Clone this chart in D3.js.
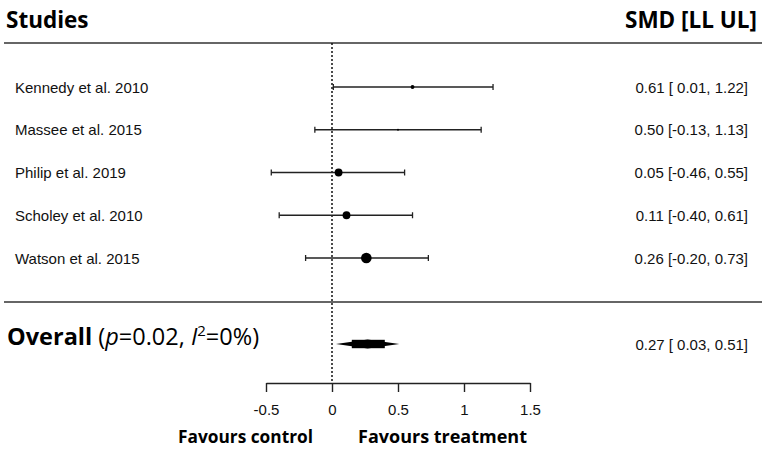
<!DOCTYPE html>
<html>
<head>
<meta charset="utf-8">
<script src="https://cdn.jsdelivr.net/npm/d3@7"></script>
<style>
    body { margin: 0; background: #fff; }
    svg { display: block; }
    .label { font-family: "Liberation Sans", Arial, sans-serif; font-size: 15px; fill: #111; }
    .head { font-family: "Open Sans", sans-serif; font-weight: bold; fill: #000; }
    .axis text { font-family: "Liberation Sans", Arial, sans-serif; font-size: 15px; fill: #111; }
    .axis path, .axis line { stroke: #222; stroke-width: 1.4; }
</style>
</head>
<body>
<svg id="chart" width="765" height="449"></svg>
<script>
// forest plot data
const studies = ["Kennedy et al. 2010", "Massee et al. 2015", "Philip et al. 2019", "Scholey et al. 2010", "Watson et al. 2015"];
const smd = [0.61, 0.50, 0.05, 0.11, 0.26];
const lower = [0.01, -0.13, -0.46, -0.40, -0.20];
const upper = [1.22, 1.13, 0.55, 0.61, 0.73];
const weights = [4, 1, 17, 17, 31];
const overall = {est: 0.27, lo: 0.03, hi: 0.51};
const tickValues = [-0.5, 0, 0.5, 1, 1.5];

const width = 765, height = 449;
const svg = d3.select("#chart");

const x = d3.scaleLinear().domain([-0.5, 1.5]).range([266, 530]);
const y = d3.scalePoint().domain(studies).range([87, 258]);
const r = d3.scaleSqrt().domain([0, d3.max(weights)]).range([0, 5.3]);
const yOverall = 344;
const yAxis = 383;

// plain hyphen instead of the unicode minus d3 uses
const fmt = v => d3.format(".2f")(v).replace("\u2212", "-");
const fmtBound = v => (v < 0 ? "" : " ") + fmt(v);

// headers
svg.append("text").attr("class", "head").attr("x", 6).attr("y", 28)
    .style("font-size", "22.5px").text("Studies");
svg.append("text").attr("class", "head").attr("x", 757).attr("y", 28)
    .attr("text-anchor", "end").style("font-size", "22.5px").text("SMD [LL UL]");

// separators
[43, 302].forEach(yy => {
    svg.append("line").attr("x1", 4).attr("x2", 762).attr("y1", yy).attr("y2", yy)
        .attr("stroke", "#333").attr("stroke-width", 1.5);
});

// null line
svg.append("line").attr("x1", x(0)).attr("x2", x(0)).attr("y1", 43).attr("y2", yAxis)
    .attr("stroke", "#111").attr("stroke-width", 1.5).attr("stroke-dasharray", "2,2");

const rows = studies.map((s, i) => ({name: s, est: smd[i], lo: lower[i], hi: upper[i], w: weights[i]}));

const g = svg.append("g").selectAll("g").data(rows).enter().append("g")
    .attr("transform", d => "translate(0," + y(d.name) + ")");

g.append("line").attr("x1", d => x(d.lo)).attr("x2", d => x(d.hi))
    .attr("stroke", "#222").attr("stroke-width", 1.3);
g.append("line").attr("x1", d => x(d.lo)).attr("x2", d => x(d.lo)).attr("y1", -3).attr("y2", 3)
    .attr("stroke", "#222").attr("stroke-width", 1.3);
g.append("line").attr("x1", d => x(d.hi)).attr("x2", d => x(d.hi)).attr("y1", -3).attr("y2", 3)
    .attr("stroke", "#222").attr("stroke-width", 1.3);
g.append("circle").attr("cx", d => x(d.est)).attr("r", d => r(d.w)).attr("fill", "#000");

g.append("text").attr("class", "label").attr("x", 15).attr("dy", "0.38em").text(d => d.name);
g.append("text").attr("class", "label").attr("x", 748).attr("dy", "0.38em").attr("text-anchor", "end")
    .text(d => fmt(d.est) + " [" + fmtBound(d.lo) + ", " + fmt(d.hi) + "]");

// overall diamond
const dy = 4.5;
svg.append("polygon")
    .attr("points", [[x(overall.lo), yOverall], [x(overall.est), yOverall - dy],
        [x(overall.hi), yOverall], [x(overall.est), yOverall + dy]].map(p => p.join(",")).join(" "))
    .attr("fill", "#000");
svg.append("rect").attr("x", x(0.15)).attr("width", x(0.40) - x(0.15))
    .attr("y", yOverall - 4.2).attr("height", 8.4).attr("fill", "#000");

const ov = svg.append("text").attr("x", 7).attr("y", yOverall + 1)
    .style("font-family", "'Open Sans', sans-serif").style("font-size", "23.5px").attr("fill", "#000");
ov.append("tspan").style("font-weight", "bold").text("Overall");
ov.append("tspan").text(" (");
ov.append("tspan").style("font-style", "italic").text("p");
ov.append("tspan").text("=0.02, ");
ov.append("tspan").style("font-style", "italic").text("I");
ov.append("tspan").attr("dy", -9).style("font-size", "15px").text("2");
ov.append("tspan").attr("dy", 9).text("=0%)");

svg.append("text").attr("class", "label").attr("x", 748).attr("y", yOverall).attr("dy", "0.38em")
    .attr("text-anchor", "end")
    .text(fmt(overall.est) + " [" + fmtBound(overall.lo) + ", " + fmt(overall.hi) + "]");

// axis
svg.append("g").attr("class", "axis").attr("transform", "translate(0," + yAxis + ")")
    .call(d3.axisBottom(x).tickValues(tickValues).tickFormat(d => String(d)).tickSize(9).tickSizeOuter(0).tickPadding(12));

svg.append("text").attr("class", "head").attr("x", 313).attr("y", 443)
    .attr("text-anchor", "end").style("font-size", "17.5px")
    .attr("textLength", 135).attr("lengthAdjust", "spacingAndGlyphs").text("Favours control");
svg.append("text").attr("class", "head").attr("x", 358).attr("y", 443)
    .style("font-size", "17.5px")
    .attr("textLength", 169).attr("lengthAdjust", "spacingAndGlyphs").text("Favours treatment");
</script>
</body>
</html>
